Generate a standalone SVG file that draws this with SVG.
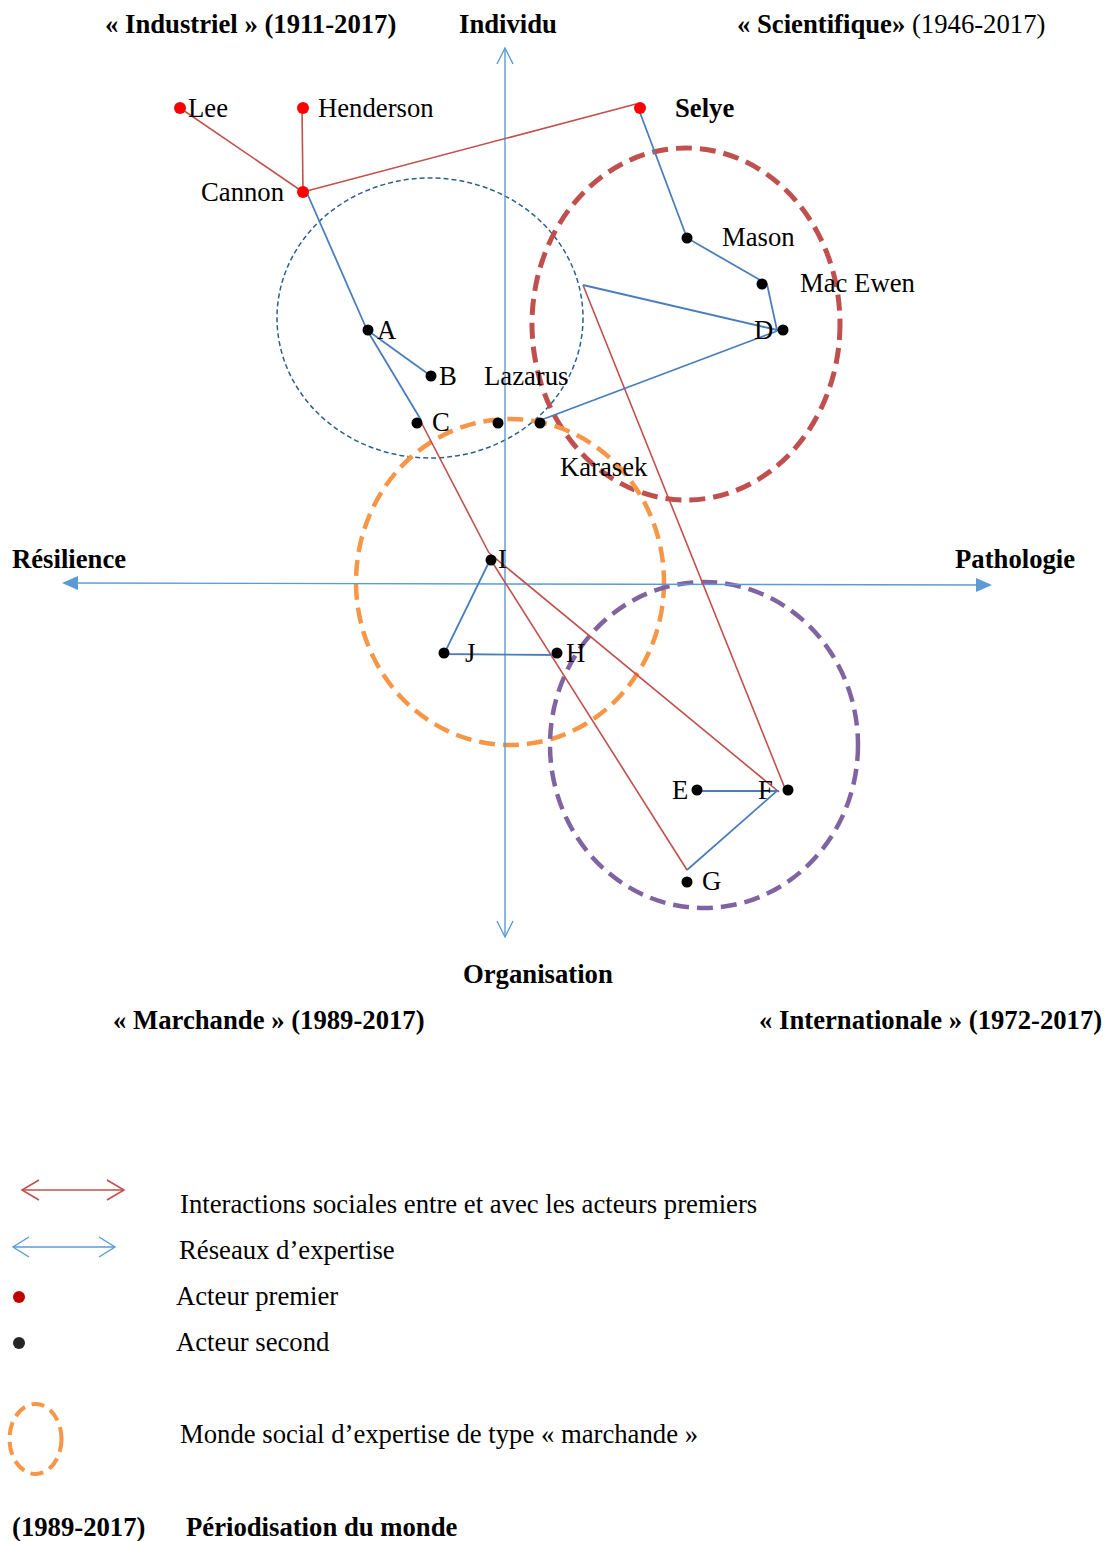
<svg xmlns="http://www.w3.org/2000/svg" width="1106" height="1541" viewBox="0 0 1106 1541">
<style>
text{font-family:"Liberation Serif","Times New Roman",serif;font-size:26.7px;fill:#000}
.b{font-weight:bold}
.r{stroke:#C0504D;stroke-width:1.6;fill:none}
.bl{stroke:#4A7EBB;stroke-width:1.8;fill:none}
.ax{stroke:#5B9BD5;stroke-width:1.4;fill:none}
.dot{fill:#000}
.rdot{fill:#FF0000}
</style>
<rect width="1106" height="1541" fill="#fff"/>
<g id="worlds">
<ellipse id="w-industriel" cx="430" cy="318" rx="153" ry="140" fill="none" stroke="#2E5F8F" stroke-width="1.5" stroke-dasharray="5 3"/>
<ellipse id="w-scientifique" cx="686" cy="324" rx="154" ry="176" fill="none" stroke="#C0504D" stroke-width="5" stroke-dasharray="16 8"/>
<ellipse id="w-marchande" cx="510" cy="582" rx="154" ry="163" fill="none" stroke="#F79646" stroke-width="4.5" stroke-dasharray="16 8"/>
<ellipse id="w-internationale" cx="704" cy="745" rx="154" ry="163" fill="none" stroke="#8064A2" stroke-width="4.5" stroke-dasharray="16 8"/>
</g>
<g id="axes">
<line class="ax" x1="505" y1="49" x2="505" y2="936"/>
<polyline class="ax" points="497,64 505,48 513,64"/>
<polyline class="ax" points="497,921 505,937 513,921"/>
<line class="ax" x1="72" y1="583" x2="982" y2="585"/>
<polygon points="62,583 78,576 78,590" fill="#5B9BD5"/>
<polygon points="992,585 976,578 976,592" fill="#5B9BD5"/>
</g>
<g id="connectors">
<line class="r" x1="180" y1="108" x2="303" y2="192"/>
<line class="r" x1="302" y1="108" x2="303" y2="192"/>
<line class="r" x1="303" y1="192" x2="636" y2="104"/>
<line class="r" x1="420" y1="420" x2="489" y2="553"/>
<line class="r" x1="489" y1="553" x2="779" y2="792"/>
<line class="r" x1="489" y1="557" x2="687" y2="870"/>
<line class="r" x1="583" y1="285" x2="786" y2="791"/>
<line class="bl" x1="307" y1="193" x2="367" y2="330"/>
<line class="bl" x1="367" y1="330" x2="431" y2="376"/>
<line class="bl" x1="367" y1="330" x2="421" y2="420"/>
<polyline class="bl" points="639,110 687,238 767,284 777,330 583,285"/>
<line class="bl" x1="777" y1="331" x2="541" y2="420"/>
<polyline class="bl" points="490,560 444,654 560,655"/>
<polyline class="bl" points="693,791 777,791 687,870"/>
</g>
<g id="titles">
<text class="b" x="105" y="33">« Industriel » (1911-2017)</text>
<text class="b" x="459" y="33">Individu</text>
<text x="737" y="33"><tspan class="b">« Scientifique»</tspan> (1946-2017)</text>
<text class="b" x="12" y="568">Résilience</text>
<text class="b" x="955" y="568">Pathologie</text>
<text class="b" x="463" y="983">Organisation</text>
<text class="b" x="113" y="1029">« Marchande » (1989-2017)</text>
<text class="b" x="759" y="1029">« Internationale » (1972-2017)</text>
</g>
<g id="n-lee"><circle class="rdot" cx="180" cy="108" r="6"/><text x="188" y="117">Lee</text></g>
<g id="n-henderson"><circle class="rdot" cx="303" cy="108" r="6"/><text x="318" y="117">Henderson</text></g>
<g id="n-selye"><circle class="rdot" cx="640" cy="108" r="6"/><text class="b" x="675" y="117">Selye</text></g>
<g id="n-cannon"><circle class="rdot" cx="303" cy="192" r="6"/><text x="201" y="201">Cannon</text></g>
<g id="n-mason"><circle class="dot" cx="687" cy="238" r="5.5"/><text x="722" y="246">Mason</text></g>
<g id="n-macewen"><circle class="dot" cx="762" cy="284" r="5.5"/><text x="800" y="292">Mac Ewen</text></g>
<g id="n-d"><circle class="dot" cx="783" cy="330" r="5.5"/><text x="754" y="339">D</text></g>
<g id="n-a"><circle class="dot" cx="368" cy="330" r="5.5"/><text x="377" y="339">A</text></g>
<g id="n-b"><circle class="dot" cx="431" cy="376" r="5.5"/><text x="439" y="385">B</text></g>
<g id="n-c"><circle class="dot" cx="417" cy="423" r="5.5"/><text x="432" y="431">C</text></g>
<g id="n-lazarus"><circle class="dot" cx="498" cy="423" r="5.5"/><text x="484" y="385">Lazarus</text></g>
<g id="n-karasek"><circle class="dot" cx="540" cy="423" r="5.5"/><text x="560" y="476">Karasek</text></g>
<g id="n-i"><circle class="dot" cx="491" cy="560" r="5.5"/><text x="498" y="568">I</text></g>
<g id="n-j"><circle class="dot" cx="444" cy="653" r="5.5"/><text x="465" y="662">J</text></g>
<g id="n-h"><circle class="dot" cx="557" cy="653" r="5.5"/><text x="566" y="662">H</text></g>
<g id="n-e"><circle class="dot" cx="697" cy="790" r="5.5"/><text x="672" y="799">E</text></g>
<g id="n-f"><circle class="dot" cx="788" cy="790" r="5.5"/><text x="758" y="799">F</text></g>
<g id="n-g"><circle class="dot" cx="687" cy="882" r="5.5"/><text x="702" y="890">G</text></g>
<g id="legend">
<line x1="22" y1="1190" x2="124" y2="1190" stroke="#C0504D" stroke-width="1.6"/>
<polyline points="39,1180 22,1190 39,1200" fill="none" stroke="#C0504D" stroke-width="1.6"/>
<polyline points="107,1180 124,1190 107,1200" fill="none" stroke="#C0504D" stroke-width="1.6"/>
<text x="180" y="1213">Interactions sociales entre et avec les acteurs premiers</text>
<line x1="13" y1="1247" x2="115" y2="1247" stroke="#5B9BD5" stroke-width="1.4"/>
<polyline points="29,1237 13,1247 29,1257" fill="none" stroke="#5B9BD5" stroke-width="1.4"/>
<polyline points="99,1237 115,1247 99,1257" fill="none" stroke="#5B9BD5" stroke-width="1.4"/>
<text x="179" y="1259">Réseaux d’expertise</text>
<circle cx="19" cy="1297" r="6" fill="#C00000"/>
<text x="176" y="1305">Acteur premier</text>
<circle cx="19" cy="1343" r="6" fill="#262626"/>
<text x="176" y="1351">Acteur second</text>
<ellipse cx="35.5" cy="1439" rx="26" ry="35" fill="none" stroke="#F79646" stroke-width="4" stroke-dasharray="13 7"/>
<text x="180" y="1443">Monde social d’expertise de type « marchande »</text>
<text class="b" x="12" y="1536">(1989-2017)</text>
<text class="b" x="186" y="1536">Périodisation du monde</text>
</g>
</svg>
